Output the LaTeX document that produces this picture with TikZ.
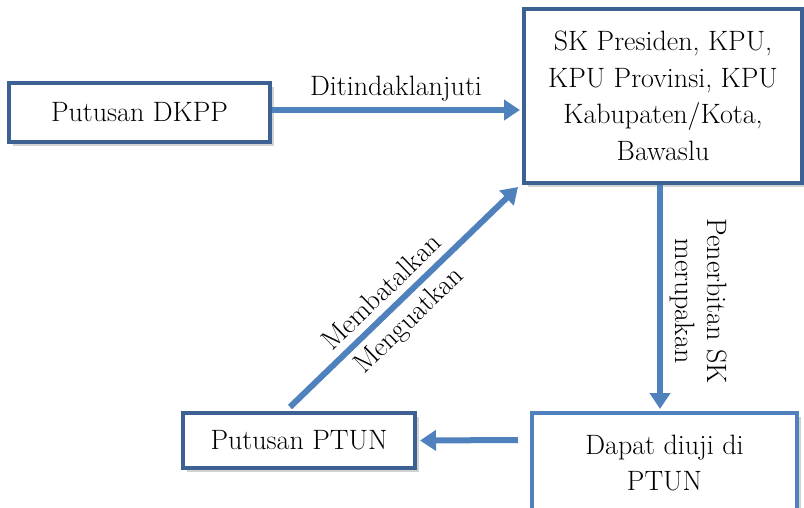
\documentclass[tikz,border=0pt]{standalone}
\usetikzlibrary{arrows.meta,shadows,calc}
\definecolor{boxdark}{HTML}{3E6194}
\definecolor{arrowblue}{HTML}{4F81BD}
\begin{document}
\begin{tikzpicture}[x=1pt,y=-1pt,
  txt/.style={font=\fontsize{28}{36.5}\selectfont, align=center},
  box/.style={txt, draw=boxdark, line width=4pt, fill=white, rectangle, inner sep=0pt,
    drop shadow={opacity=0.35, shadow xshift=4pt, shadow yshift=-4pt}},
  lightbox/.style={box, draw=arrowblue},
  arr/.style={draw=arrowblue, line width=6pt, -{Triangle[length=16pt,width=20pt]}},
  lbl/.style={txt, inner sep=1pt}]
\useasboundingbox (0,0) rectangle (804,507);
\fill[white] (0,0) rectangle (804,507);
\node[box, minimum width=261pt, minimum height=59pt] (dkpp) at (139.5,112.5) {Putusan DKPP};
\node[box, minimum width=278pt, minimum height=174pt] (sk) at (663,96)
  {SK Presiden, KPU,\\KPU Provinsi, KPU\\Kabupaten/Kota,\\Bawaslu};
\node[box, minimum width=232pt, minimum height=55pt] (ptun) at (299,440.5) {Putusan PTUN};
\node[lightbox, minimum width=265pt, minimum height=100pt] (diuji) at (664.5,463)
  {Dapat diuji di\\PTUN};
% arrows
\draw[arr] (dkpp.east |- 0,110) -- ($(sk.west |- 0,110)+(-2,0)$)
  node[lbl, midway, above=5pt] {Ditindaklanjuti};
\coordinate (v1) at ($(sk.south)+(-3,0)$);
\coordinate (v2) at ($(diuji.north)+(-4.5,-2)$);
\draw[arr] (v1) -- (v2);
\node[lbl, rotate=-90, font=\fontsize{28}{32}\selectfont] at ($(v1)!0.5!(v2)+(39,4)$) {Penerbitan SK\\merupakan};
\draw[arr] ($(diuji.west |- 0,440)+(-12,0)$) -- ($(ptun.east)+(3,0)$);
\coordinate (d1) at ($(ptun.north)+(-9,-4)$);
\coordinate (d2) at ($(sk.south west)+(-4,2)$);
\draw[arr] (d1) -- (d2)
  node[lbl, pos=0.46, sloped, above=6pt] {Membatalkan}
  node[lbl, pos=0.46, sloped, below=5pt] {Menguatkan};
\end{tikzpicture}
\end{document}
